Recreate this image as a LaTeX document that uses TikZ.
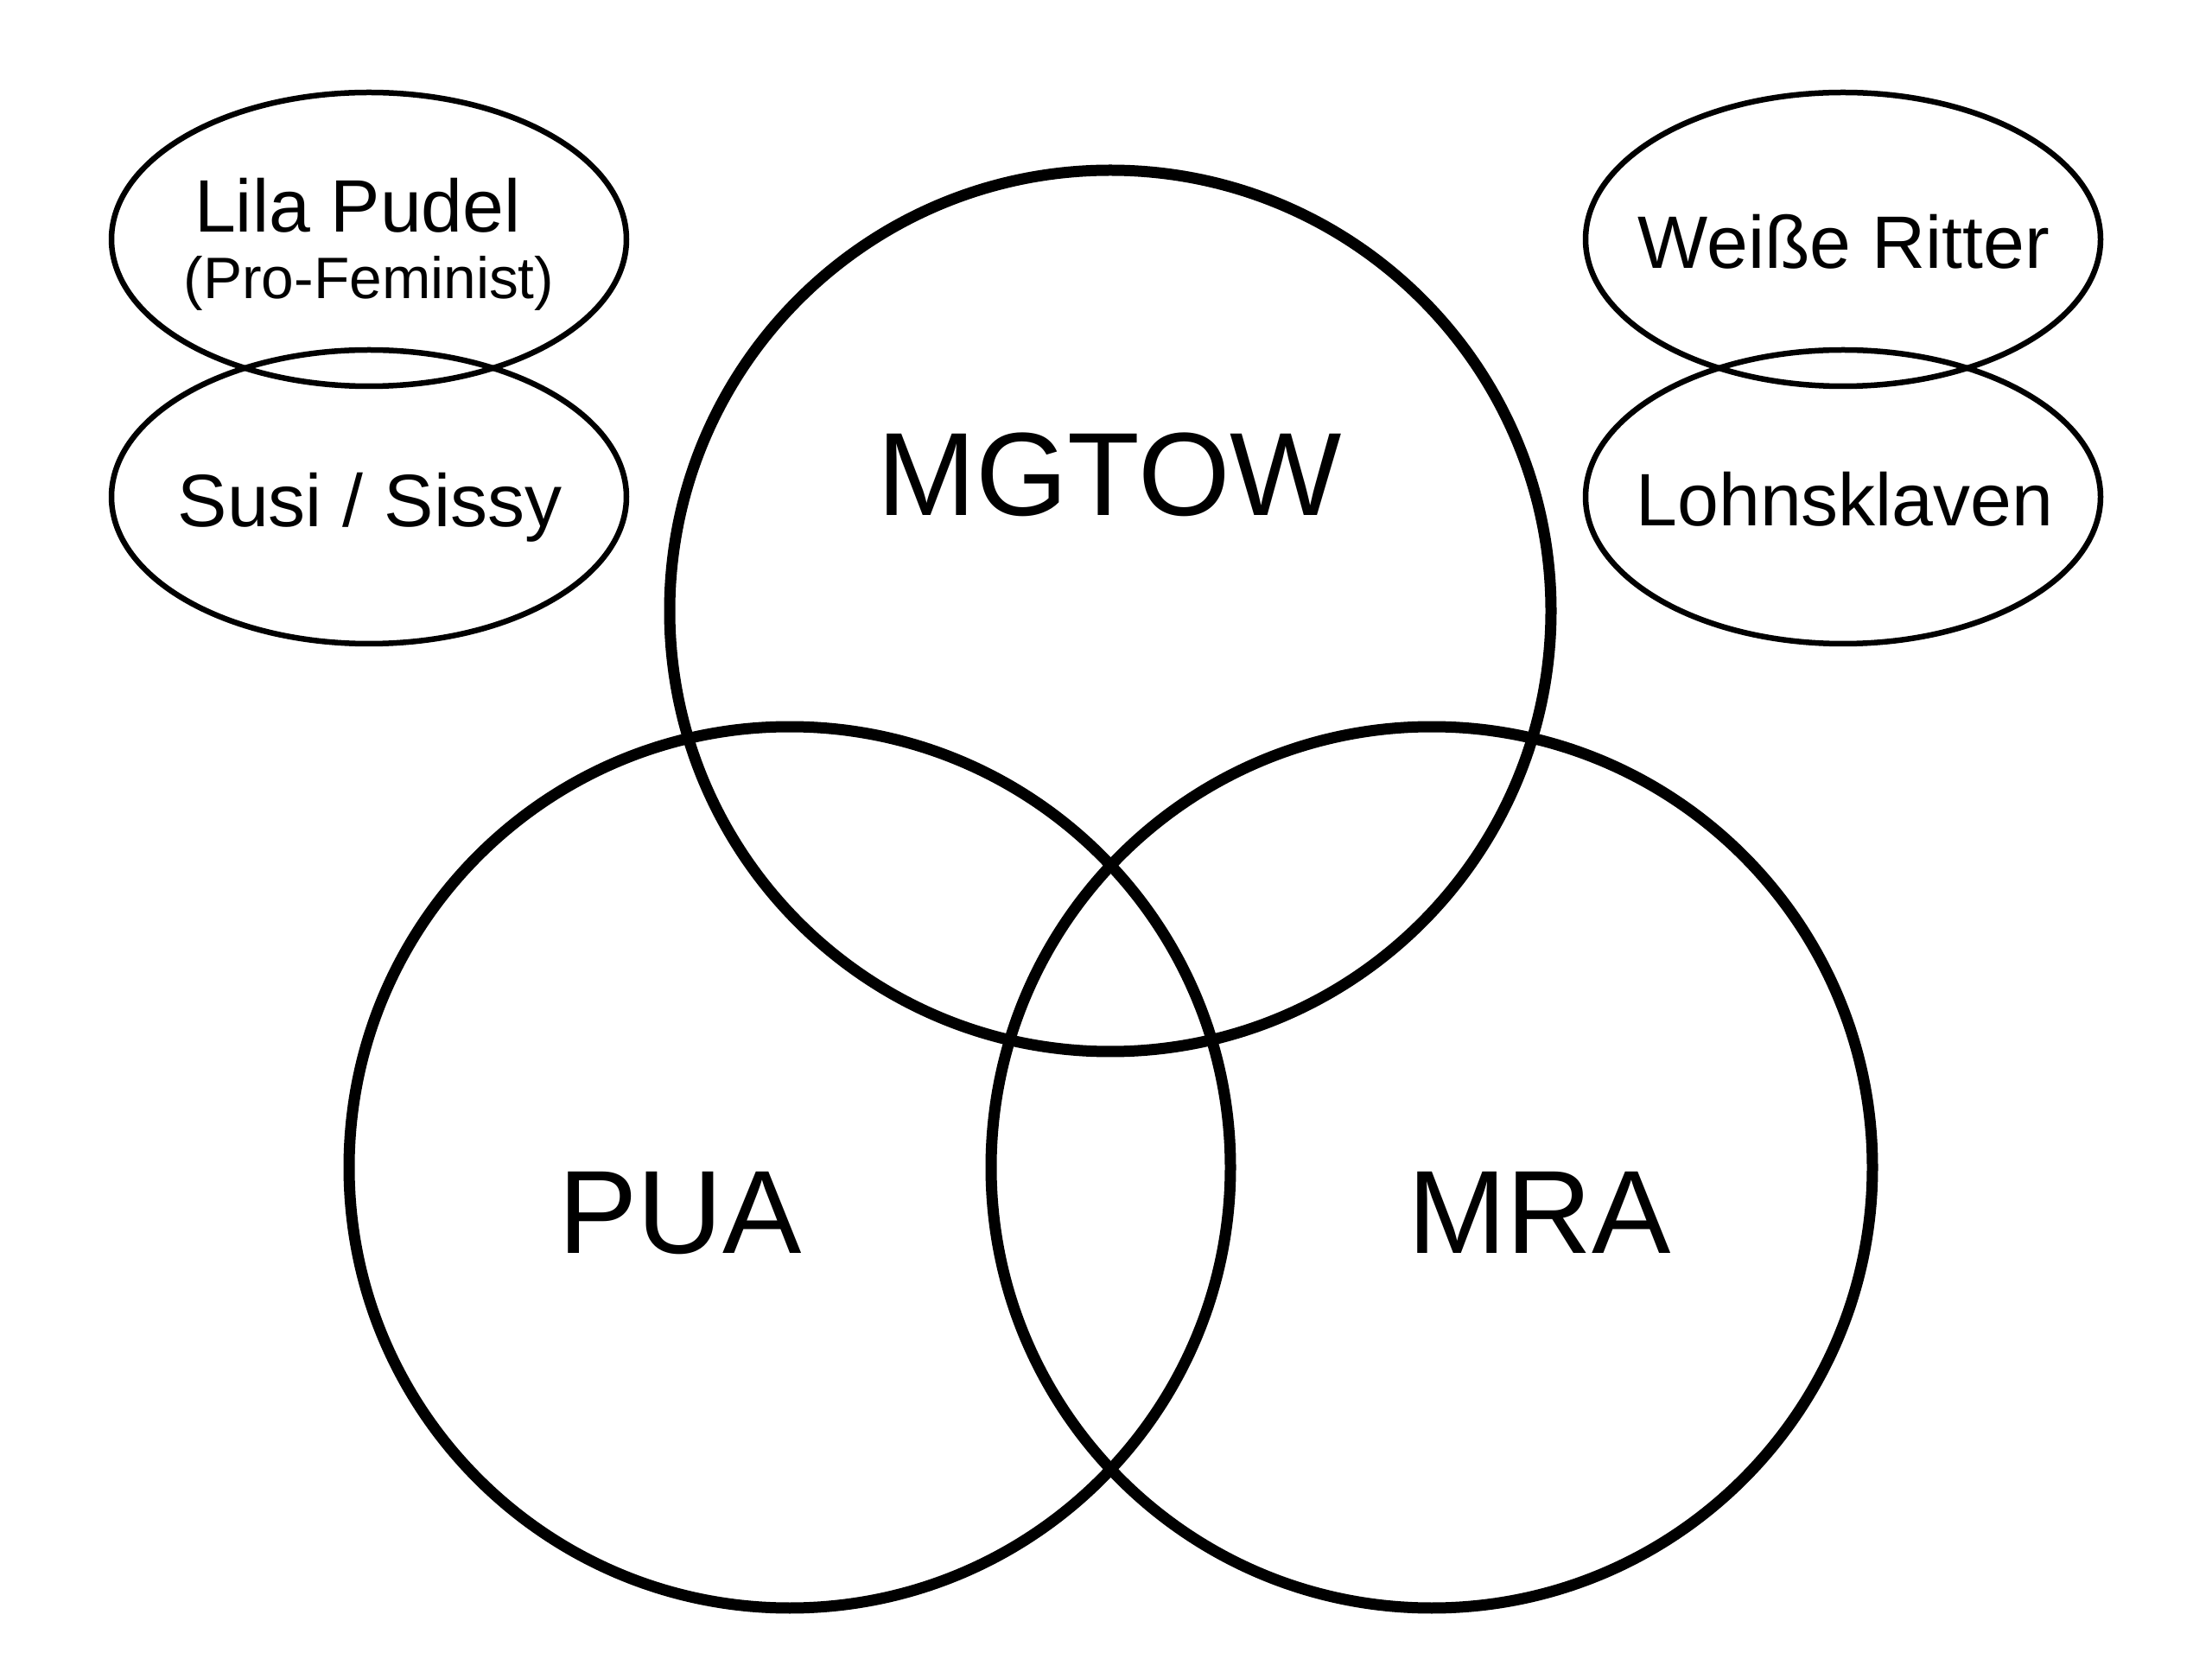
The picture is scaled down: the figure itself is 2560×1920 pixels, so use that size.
\documentclass[tikz,border=0pt]{standalone}
\usepackage{fontspec}
\setmainfont{Liberation Sans}
\usetikzlibrary{shapes.geometric}
\begin{document}
\begin{tikzpicture}[x=0.3pt,y=-0.3pt,
  venn/.style={circle, draw, line width=3.9pt, minimum size=306pt, inner sep=0pt},
  group/.style={ellipse, draw, line width=1.95pt, minimum width=178.8pt, minimum height=102pt, inner sep=0pt},
  biglabel/.style={anchor=base, inner sep=0pt, font=\fontsize{41.1pt}{41.1pt}\selectfont},
  smalllabel/.style={anchor=base, inner sep=0pt, font=\fontsize{25.8pt}{25.8pt}\selectfont},
  tinylabel/.style={anchor=base, inner sep=0pt, font=\fontsize{20.3pt}{20.3pt}\selectfont}]
\useasboundingbox (0,0) rectangle (2560,1920);
\fill[white] (0,0) rectangle (2560,1920);
% Venn circles
\node[venn] (mgtow) at (1285,707) {};
\node[venn] (pua) at (914,1351) {};
\node[venn] (mra) at (1657,1351) {};
% side ellipses
\node[group] (lila) at (427,277) {};
\node[group] (susi) at (427,575) {};
\node[group] (weisse) at (2133,277) {};
\node[group] (lohn) at (2133,575) {};
% labels
\node[biglabel] (tmgtow) at (1284,597) {MGTOW};
\node[biglabel] (tpua) at (787,1450) {PUA};
\node[biglabel] (tmra) at (1782,1450) {MRA};
\node[smalllabel] (tlila) at (414,269) {Lila Pudel};
\node[tinylabel] (tpro) at (427,346) {(Pro-Feminist)};
\node[smalllabel] (tsusi) at (428,610) {Susi / Sissy};
\node[smalllabel] (tweisse) at (2134,311) {Weiße Ritter};
\node[smalllabel] (tlohn) at (2135,609) {Lohnsklaven};
\end{tikzpicture}
\end{document}
